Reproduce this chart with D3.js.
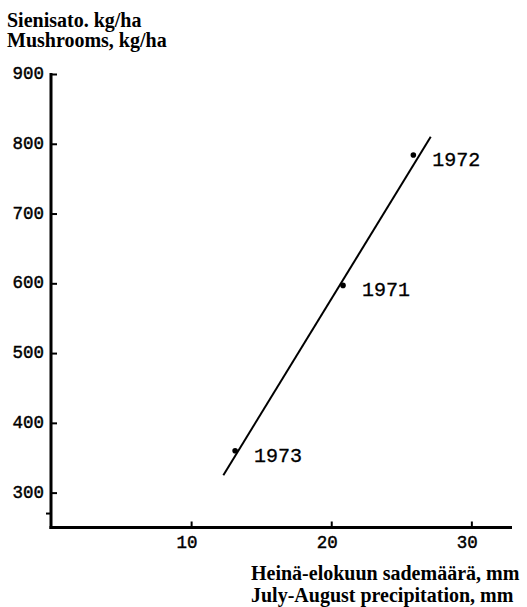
<!DOCTYPE html>
<html>
<head>
<meta charset="utf-8">
<script src="https://cdn.jsdelivr.net/npm/d3@7"></script>
<style>
  html, body { margin: 0; padding: 0; background: #fff; }
  svg { display: block; }
</style>
</head>
<body>
<svg id="chart" width="527" height="607"></svg>
<script>
// ---- data ----
const years = ["1971", "1972", "1973"];
const precipitation = [20.84, 25.86, 13.14];   // mm, July-August
const mushrooms = [597, 784, 360];             // kg/ha
const fitX = [12.3, 27.1];                     // regression line endpoints (x)
const fitY = [325, 810];                       // regression line endpoints (y)
const xTicks = [10, 20, 30];
const yTicks = [300, 400, 500, 600, 700, 800, 900];
const yTitle = ["Sienisato. kg/ha", "Mushrooms, kg/ha"];
const xTitle = ["Heinä-elokuun sademäärä, mm", "July-August precipitation, mm"];

// ---- layout ----
const svg = d3.select("#chart");
const x = d3.scaleLinear().domain([0, 32.9]).range([51, 512]);
const y = d3.scaleLinear().domain([250, 900]).range([527.5, 74]);

const mono = "'Liberation Mono', 'DejaVu Sans Mono', monospace";
const serif = "'Liberation Serif', 'Times New Roman', serif";

// y axis
const yAxis = svg.append("g")
  .attr("transform", `translate(${x(0)},0)`)
  .call(d3.axisRight(y).tickValues(yTicks).tickSize(6).tickFormat(""));
yAxis.select(".domain").remove();
yAxis.selectAll(".tick line").attr("stroke", "#000").attr("stroke-width", 2);

svg.append("line")
  .attr("x1", x(0)).attr("x2", x(0))
  .attr("y1", y(900) - 1).attr("y2", y(250) + 1.5)
  .attr("stroke", "#000").attr("stroke-width", 3);

// small mark near bottom of y axis
svg.append("line")
  .attr("x1", x(0) - 5).attr("x2", x(0))
  .attr("y1", y(270)).attr("y2", y(270))
  .attr("stroke", "#000").attr("stroke-width", 2);

svg.append("g").selectAll("text")
  .data(yTicks).join("text")
  .attr("x", 44).attr("y", d => y(d) + 5)
  .attr("text-anchor", "end")
  .attr("font-family", mono).attr("font-size", 17.5)
  .attr("fill", "#000").attr("stroke", "#000").attr("stroke-width", 0.45)
  .text(d => d);

// x axis
const xAxis = svg.append("g")
  .attr("transform", `translate(0,${y(250)})`)
  .call(d3.axisTop(x).tickValues(xTicks).tickSize(6).tickFormat(""));
xAxis.select(".domain").remove();
xAxis.selectAll(".tick line").attr("stroke", "#000").attr("stroke-width", 2);

svg.append("line")
  .attr("x1", x(0) - 1.5).attr("x2", x(32.9))
  .attr("y1", y(250)).attr("y2", y(250))
  .attr("stroke", "#000").attr("stroke-width", 3);

svg.append("g").selectAll("text")
  .data(xTicks).join("text")
  .attr("x", d => x(d) - 4).attr("y", 548)
  .attr("text-anchor", "middle")
  .attr("font-family", mono).attr("font-size", 17.5)
  .attr("fill", "#000").attr("stroke", "#000").attr("stroke-width", 0.45)
  .text(d => d);

// regression line
svg.append("line")
  .attr("x1", x(fitX[0])).attr("y1", y(fitY[0]))
  .attr("x2", x(fitX[1])).attr("y2", y(fitY[1]))
  .attr("stroke", "#000").attr("stroke-width", 2);

// points
const pts = years.map((yr, i) => ({ yr, px: precipitation[i], m: mushrooms[i] }));
svg.append("g").selectAll("circle")
  .data(pts).join("circle")
  .attr("cx", d => x(d.px)).attr("cy", d => y(d.m))
  .attr("r", 2.8).attr("fill", "#000");

svg.append("g").selectAll("text")
  .data(pts).join("text")
  .attr("x", d => x(d.px) + 19).attr("y", d => y(d.m) + 11)
  .attr("font-family", mono).attr("font-size", 20)
  .attr("fill", "#000").attr("stroke", "#000").attr("stroke-width", 0.3)
  .text(d => d.yr);

// titles (each as one text block with line tspans)
const yT = svg.append("text")
  .attr("font-family", serif).attr("font-size", 20).attr("font-weight", "bold")
  .attr("fill", "#000");
yT.selectAll("tspan").data(yTitle).join("tspan")
  .attr("x", 7).attr("y", (d, i) => 27 + i * 20)
  .text(d => d);

const xT = svg.append("text")
  .attr("font-family", serif).attr("font-size", 20).attr("font-weight", "bold")
  .attr("fill", "#000");
xT.selectAll("tspan").data(xTitle).join("tspan")
  .attr("x", 251).attr("y", (d, i) => 580 + i * 22)
  .text(d => d);
</script>
</body>
</html>
